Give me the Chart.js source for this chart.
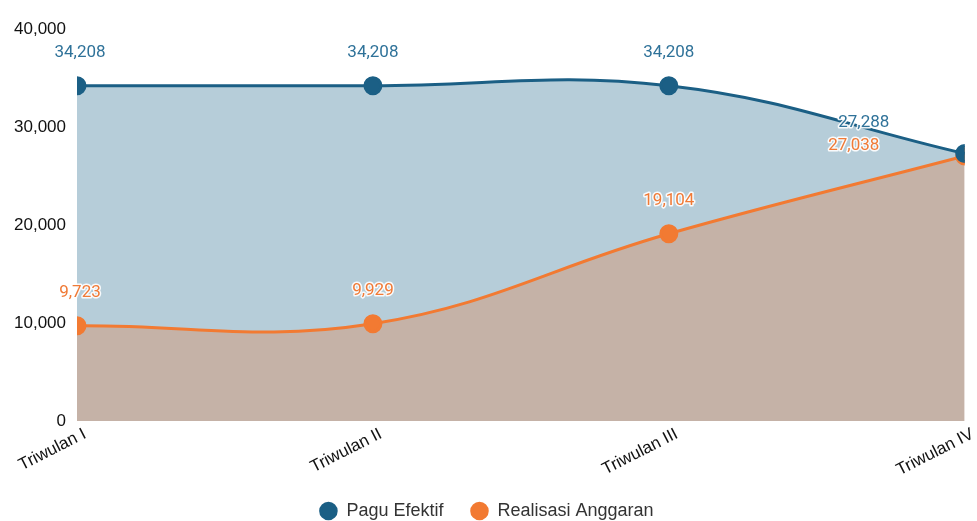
<!DOCTYPE html>
<html>
<head>
<meta charset="utf-8">
<script src="https://cdn.jsdelivr.net/npm/chart.js@4.4.0/dist/chart.umd.min.js"></script>
<style>
  html, body { margin: 0; padding: 0; background: #fff; }
  #wrap { width: 977px; height: 521px; }
</style>
</head>
<body>
<div id="wrap"><canvas id="myChart"></canvas></div>
<script>
var quarters = ['Triwulan I', 'Triwulan II', 'Triwulan III', 'Triwulan IV'];
var pagu = [34208, 34208, 34208, 27288];
var realisasi = [9723, 9929, 19104, 27038];
var yTicks = [0, 10000, 20000, 30000, 40000];

var blue = '#1b5f85';
var orange = '#f27a32';

function fmt(n) {
    return n.toLocaleString('en-US');
}

// value labels above the points, with a white halo
var valueLabels = {
    id: 'valueLabels',
    afterDatasetsDraw: function(chart) {
        var ctx = chart.ctx;
        ctx.save();
        ctx.font = '17px Roboto';
        ctx.textAlign = 'center';
        ctx.textBaseline = 'middle';
        ctx.lineJoin = 'round';
        chart.data.datasets.forEach(function(ds, di) {
            var meta = chart.getDatasetMeta(di);
            meta.data.forEach(function(pt, i) {
                var x = pt.x + (i == 0 ? 3 : 0);
                var y = pt.y - 33;
                if (i == ds.data.length - 1) {
                    x = pt.x - (di == 0 ? 101 : 111);
                    y = pt.y - (di == 0 ? 31 : 10);
                }
                var txt = fmt(ds.data[i]);
                ctx.strokeStyle = 'rgba(255,255,255,0.9)';
                ctx.lineWidth = 3;
                ctx.strokeText(txt, x, y);
                ctx.fillStyle = ds.labelColor;
                ctx.fillText(txt, x, y);
            });
        });
        ctx.restore();
    }
};

var ctx = document.getElementById('myChart').getContext('2d');
var chart = new Chart(ctx, {
    type: 'line',
    data: {
        labels: quarters,
        datasets: [{
                label: 'Pagu Efektif',
                data: pagu,
                borderColor: blue,
                backgroundColor: '#b6cdd9',
                pointBackgroundColor: blue,
                pointBorderColor: blue,
                labelColor: '#2f7299',
                borderWidth: 3,
                pointRadius: 8,
                fill: '+1',
                tension: 0.4,
                clip: { left: 0, right: 0, top: false, bottom: 0 }
            },
            {
                label: 'Realisasi Anggaran',
                data: realisasi,
                borderColor: orange,
                backgroundColor: '#c5b2a7',
                pointBackgroundColor: orange,
                pointBorderColor: orange,
                labelColor: '#f07a36',
                borderWidth: 3,
                pointRadius: 8,
                fill: 'origin',
                tension: 0.4,
                clip: { left: 0, right: 0, top: false, bottom: 0 }
            }]
    },
    options: {
        responsive: true,
        maintainAspectRatio: false,
        animation: false,
        layout: { padding: { top: 29, right: 4, left: 0, bottom: -9 } },
        plugins: {
            filler: { drawTime: 'beforeDatasetsDraw' },
            legend: {
                position: 'bottom',
                labels: {
                    usePointStyle: true,
                    pointStyle: 'circle',
                    boxWidth: 18,
                    boxHeight: 11,
                    padding: 27,
                    color: '#333',
                    font: { family: 'Liberation Sans', size: 18 }
                }
            },
            tooltip: { enabled: false }
        },
        scales: {
            x: {
                grid: { display: false, drawTicks: false },
                border: { display: false },
                afterFit: function(scale) {
                    scale.height = 54;
                    scale.paddingLeft = 77;
                },
                ticks: {
                    minRotation: 27,
                    maxRotation: 27,
                    padding: 3,
                    labelOffset: 8,
                    color: '#111',
                    font: { family: 'Liberation Sans', size: 17 }
                }
            },
            y: {
                min: 0,
                max: 40000,
                grid: { display: false, drawTicks: false },
                border: { display: false },
                afterBuildTicks: function(axis) {
                    axis.ticks = yTicks.map(function(v) { return { value: v }; });
                },
                ticks: {
                    color: '#111',
                    padding: 11,
                    font: { family: 'Liberation Sans', size: 17 },
                    callback: function(v) { return fmt(v); }
                }
            }
        }
    },
    plugins: [valueLabels]
});
</script>
</body>
</html>
